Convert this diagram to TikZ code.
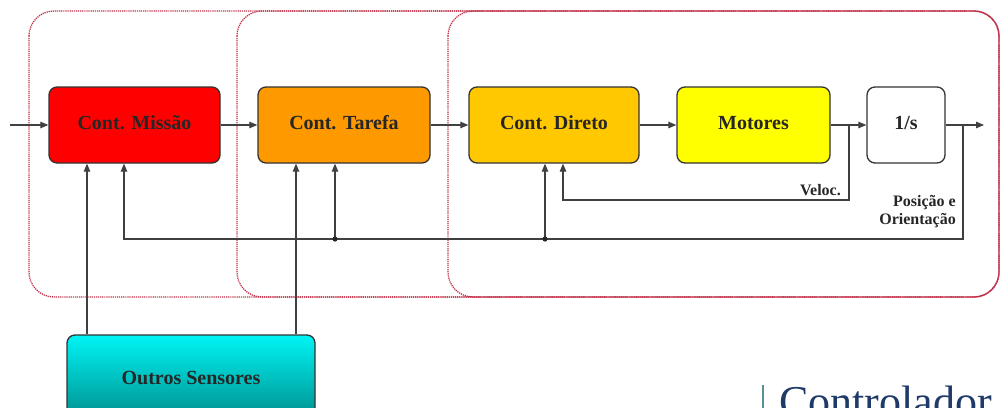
\documentclass[tikz,border=0pt]{standalone}
\usepackage{fontspec}
\setmainfont{Liberation Serif}
\usetikzlibrary{arrows.meta}

\definecolor{missaofill}{HTML}{FF0000}
\definecolor{tarefafill}{HTML}{FF9900}
\definecolor{diretofill}{HTML}{FFC800}
\definecolor{motoresfill}{HTML}{FFFF00}
\definecolor{senstop}{HTML}{00F4F4}
\definecolor{sensbot}{HTML}{008888}
\definecolor{regionred}{HTML}{C03048}
\definecolor{ctrlblue}{HTML}{1F3A68}
\definecolor{ctrlbar}{HTML}{5A9090}

\tikzset{
  block/.style={draw=black!80, line width=1.3pt, rounded corners=8pt,
    minimum height=76pt, inner sep=0pt, text=black!85,
    font=\bfseries\fontsize{20}{24}\selectfont,
    text height=14pt, text depth=6pt},
  region/.style={draw=regionred, line width=1.3pt, dash pattern=on 1.2pt off 0.9pt,
    rounded corners=25pt},
  conn/.style={draw=black!75, line width=1.2pt,
    -{Triangle[length=8pt,width=6.5pt]}},
  lbl/.style={inner sep=0pt, text=black!85,
    font=\bfseries\fontsize{16}{18}\selectfont},
  junction/.style={fill=black!85}
}

\begin{document}
\begin{tikzpicture}[x=1pt,y=-1pt]
\useasboundingbox (0,0) rectangle (1001,407);
\clip (0,0) rectangle (1001,407);

% nested control layers
\draw[region] (29,11) rectangle (999,297);
\draw[region] (237,11) rectangle (999,297);
\draw[region] (448,11) rectangle (999,297);

% blocks of the control chain
\node[block, fill=missaofill, minimum width=171pt] (missao) at (134.5,125) {Cont. Missão};
\node[block, fill=tarefafill, minimum width=172pt] (tarefa) at (344,125) {Cont. Tarefa};
\node[block, fill=diretofill, minimum width=170pt] (direto) at (554,125) {Cont. Direto};
\node[block, fill=motoresfill, minimum width=153pt] (motores) at (753.5,125) {Motores};
\node[block, fill=white, minimum width=78pt] (integ) at (906,125) {1/s};
\node[block, top color=senstop, bottom color=sensbot, minimum width=248pt,
  minimum height=90pt] (sens) at (191,380) {Outros Sensores};

% routing points
\coordinate (in) at (10,125);
\coordinate (vb) at (849,125);
\coordinate (pb) at (963,125);
\coordinate (out) at (984,125);
\coordinate (vc) at (849,200);
\coordinate (vd) at (563,200);
\coordinate (pc) at (963,239);
\coordinate (pl) at (124,239);
\coordinate (j1) at (335,239);
\coordinate (j2) at (545,239);
\coordinate (s1) at (87,0);
\coordinate (s2) at (296,0);

% forward path
\draw[conn] (in) -- (missao.west);
\draw[conn] (missao.east) -- (tarefa.west);
\draw[conn] (tarefa.east) -- (direto.west);
\draw[conn] (direto.east) -- (motores.west);
\draw[conn] (motores.east) -- (integ.west);
\draw[conn] (integ.east) -- (out);

% velocity feedback
\draw[conn] (vb) -- (vc) -- (vd) -- (vd |- direto.south);

% position / orientation feedback
\draw[conn] (pb) -- (pc) -- (pl) -- (pl |- missao.south);
\draw[conn] (j1) -- (j1 |- tarefa.south);
\draw[conn] (j2) -- (j2 |- direto.south);
\fill[junction] (j1) circle (2.6pt);
\fill[junction] (j2) circle (2.6pt);

% other sensors
\draw[conn] (s1 |- sens.north) -- (s1 |- missao.south);
\draw[conn] (s2 |- sens.north) -- (s2 |- tarefa.south);

% signal labels
\node[lbl, anchor=east] (veloc) at (841,190) {Veloc.};
\node[lbl, anchor=east, align=right] (pos) at (956,212) {Posição e\\Orientação};

% title
\draw[ctrlbar, line width=1.2pt] (763,385) -- (763,410);
\node[anchor=base west, inner sep=0pt, text=ctrlblue,
  font=\fontsize{44}{48}\selectfont] (ctrl) at (779,416) {Controlador};
\end{tikzpicture}
\end{document}
